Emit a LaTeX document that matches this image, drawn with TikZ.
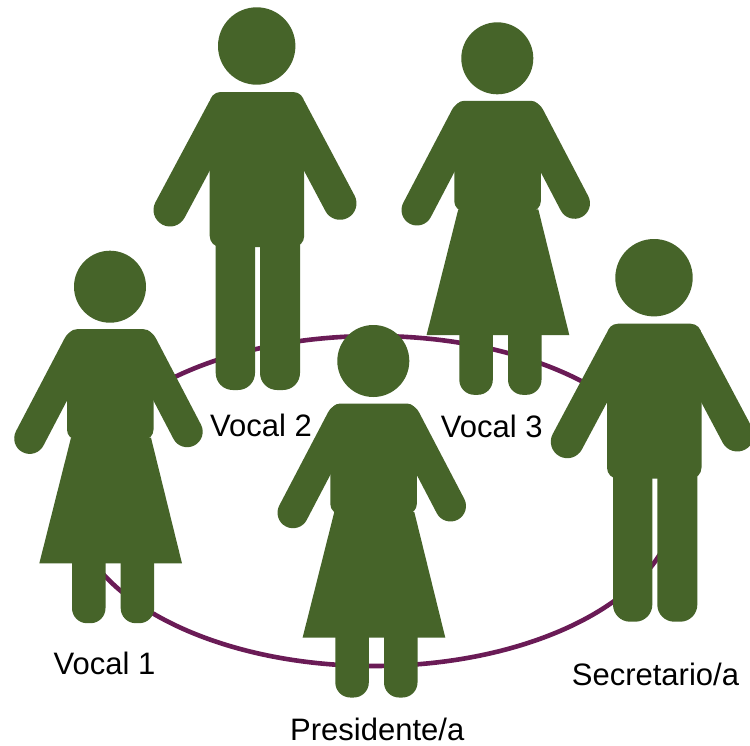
\documentclass[tikz,border=0pt]{standalone}
\usepackage{fontspec}
\setmainfont{Liberation Sans}
\definecolor{figgreen}{RGB}{70,100,41}
\definecolor{ringpurple}{RGB}{106,27,86}
\tikzset{
  lbl/.style={anchor=base west, inner sep=0pt, font=\fontsize{31pt}{37pt}\selectfont, text=black},
  limbman/.style={draw=figgreen, line width=33pt, line cap=round},
  limbwoman/.style={draw=figgreen, line width=31pt, line cap=round},
  man/.pic={
    \fill[figgreen] (0,0) circle (38.7pt);
    \path[limbman] (-33,63.5) -- (-86.7,164);
    \path[limbman] (33.5,63.5) -- (83.3,157.3);
    \fill[figgreen, rounded corners=17pt] (-41,170) rectangle (-1.7,344);
    \fill[figgreen, rounded corners=17pt] (3.3,170) rectangle (43.3,344);
    \fill[figgreen, rounded corners=11pt] (-47,46) rectangle (47.5,201);
  },
  woman/.pic={
    \fill[figgreen] (0,0) circle (36pt);
    \path[limbwoman] (-31.5,58.5) -- (-80.3,151.7);
    \path[limbwoman] (32,58.5) -- (77.2,145);
    \fill[figgreen, rounded corners=10pt] (-43,42.5) rectangle (43.5,153);
    \fill[figgreen] (-39,151) -- (41,151) -- (72,276.7) -- (-70.7,276.7) -- cycle;
    \fill[figgreen, rounded corners=15pt] (-38,240) rectangle (-4.5,336.5);
    \fill[figgreen, rounded corners=15pt] (10.7,240) rectangle (44.2,336.5);
  }
}
\begin{document}
\begin{tikzpicture}[x=1pt, y=-1pt]
  \fill[white] (0,0) rectangle (750,745);
  \useasboundingbox (0,0) rectangle (750,745);
  % ring
  \draw[ringpurple, line width=4.6pt] (374,501) ellipse [x radius=302pt, y radius=165pt];
  % figures
  \pic (vocaltwo) at (256.7,46) {man};
  \pic (vocalthree) at (497.3,58.3) {woman};
  \pic (vocalone) at (110,286.7) {woman};
  \pic (secretario) at (654,277.7) {man};
  \pic (presidente) at (373.3,361) {woman};
  % labels
  \node[lbl] (lv1) at (53.5,674) {Vocal 1};
  \node[lbl] (lv2) at (210,436.7) {Vocal 2};
  \node[lbl] (lv3) at (440.7,437) {Vocal 3};
  \node[lbl] (lpres) at (290,740.5) {Presidente/a};
  \node[lbl] (lsec) at (571.7,685) {Secretario/a};
\end{tikzpicture}
\end{document}
